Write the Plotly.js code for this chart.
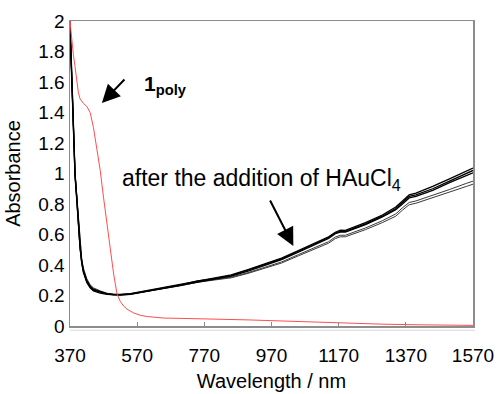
<!DOCTYPE html>
<html>
<head>
<meta charset="utf-8">
<script src="https://cdn.plot.ly/plotly-3.0.1.min.js"></script>
<style>html,body{margin:0;padding:0;background:#fff;}#chart{width:497px;height:394px;}</style>
</head>
<body>
<div id="chart"></div>
<script>
// Wavelength grid for the red (1poly) spectrum
const wlRed = [370,375,380,385,390,395,400,410,420,430,440,450,460,470,480,490,500,510,520,530,540,560,580,600,650,700,800,900,1000,1100,1200,1300,1400,1500,1570];
const absRed = [2.00,1.88,1.78,1.70,1.60,1.53,1.49,1.46,1.44,1.40,1.30,1.16,1.02,0.84,0.66,0.49,0.34,0.21,0.16,0.13,0.11,0.085,0.07,0.062,0.052,0.05,0.047,0.04,0.033,0.025,0.018,0.012,0.008,0.005,0.004];

// Wavelength grid for the spectra after the addition of HAuCl4
const wlAu = [370,373,376,380,385,390,395,400,405,410,420,430,440,460,480,500,520,550,600,650,700,750,800,850,900,950,1000,1050,1100,1140,1160,1175,1190,1250,1300,1340,1360,1380,1400,1450,1500,1550,1570];
const absAu1 = [2.00,1.80,1.55,1.25,1.00,0.85,0.68,0.52,0.42,0.36,0.29,0.255,0.235,0.22,0.21,0.205,0.205,0.21,0.23,0.25,0.27,0.295,0.31,0.33,0.365,0.40,0.44,0.49,0.54,0.58,0.61,0.62,0.62,0.67,0.72,0.77,0.81,0.85,0.86,0.90,0.95,1.00,1.02];
const absAu2 = [1.98,1.78,1.52,1.23,0.99,0.84,0.67,0.52,0.42,0.36,0.30,0.26,0.24,0.225,0.213,0.207,0.207,0.212,0.232,0.252,0.272,0.297,0.313,0.335,0.37,0.405,0.445,0.495,0.545,0.585,0.615,0.628,0.627,0.678,0.728,0.78,0.82,0.86,0.872,0.915,0.965,1.015,1.035];
const absAu3 = [1.95,1.76,1.50,1.22,0.98,0.83,0.66,0.51,0.41,0.35,0.285,0.25,0.23,0.215,0.207,0.203,0.203,0.208,0.228,0.248,0.268,0.292,0.307,0.327,0.36,0.395,0.435,0.485,0.535,0.575,0.605,0.615,0.615,0.665,0.715,0.763,0.80,0.84,0.85,0.89,0.94,0.99,1.005];
const absAu4 = [1.97,1.79,1.54,1.26,1.01,0.86,0.70,0.54,0.44,0.38,0.31,0.27,0.25,0.23,0.215,0.208,0.206,0.21,0.228,0.247,0.266,0.29,0.303,0.32,0.35,0.383,0.42,0.468,0.515,0.553,0.583,0.595,0.595,0.643,0.69,0.735,0.775,0.81,0.82,0.855,0.895,0.935,0.95];
const absAu5 = [1.96,1.78,1.53,1.25,1.00,0.85,0.69,0.53,0.43,0.37,0.30,0.265,0.245,0.226,0.212,0.206,0.205,0.209,0.227,0.245,0.264,0.287,0.30,0.316,0.345,0.377,0.413,0.46,0.506,0.543,0.573,0.585,0.585,0.632,0.678,0.72,0.76,0.795,0.805,0.84,0.878,0.915,0.93];

const xTicks = [370,570,770,970,1170,1370,1570];
const yTicks = [0,0.2,0.4,0.6,0.8,1,1.2,1.4,1.6,1.8,2];

const FONT = 'Arial, "Liberation Sans", sans-serif';

function line(x, y, color, width) {
  return {x: x, y: y, type: 'scatter', mode: 'lines', line: {color: color, width: width}, hoverinfo: 'skip', showlegend: false};
}

const traces = [
  line(wlAu, absAu5, '#3a3a3a', 1.0),
  line(wlAu, absAu4, '#3a3a3a', 1.0),
  line(wlAu, absAu3, '#000000', 1.3),
  line(wlAu, absAu2, '#000000', 1.3),
  line(wlAu, absAu1, '#000000', 1.3),
  line(wlRed, absRed, '#ff4d4d', 1.0)
];

const layout = {
  width: 497, height: 394,
  margin: {l: 70, r: 24, t: 21, b: 68},
  paper_bgcolor: '#ffffff', plot_bgcolor: '#ffffff',
  font: {family: FONT, color: '#000000', size: 19},
  showlegend: false,
  xaxis: {
    range: [370, 1570], tickvals: xTicks, ticktext: xTicks.map(String),
    showgrid: false, zeroline: false,
    showline: true, mirror: true, linecolor: '#8c8c8c', linewidth: 1.5,
    ticks: 'inside', ticklen: 4, tickcolor: '#8c8c8c', tickwidth: 1,
    ticklabelstandoff: 12,
    tickfont: {family: FONT, size: 19, color: '#000'},
    title: {text: 'Wavelength / nm', font: {family: FONT, size: 20, color: '#000'}, standoff: 8}
  },
  yaxis: {
    range: [0, 2], tickvals: yTicks, ticktext: yTicks.map(String),
    showgrid: false, zeroline: false,
    showline: true, mirror: true, linecolor: '#8c8c8c', linewidth: 1.5,
    ticks: '', ticklen: 0,
    tickfont: {family: FONT, size: 19, color: '#000'},
    title: {text: 'Absorbance', font: {family: FONT, size: 20, color: '#000'}, standoff: 12}
  },
  shapes: [
    {type: 'line', xref: 'paper', yref: 'paper', x0: 0, x1: 1.005, y0: -0.014, y1: -0.014, line: {color: '#d8d8d8', width: 1}}
  ],
  annotations: [
    {x: 465, y: 1.462, xref: 'x', yref: 'y', ax: 24, ay: -25, text: '', showarrow: true,
     arrowhead: 2, arrowsize: 1.8, arrowwidth: 2, arrowcolor: '#000'},
    {x: 584, y: 1.58, xref: 'x', yref: 'y', xanchor: 'left', yanchor: 'middle', showarrow: false,
     text: '<b>1<sub>poly</sub></b>', font: {family: FONT, size: 21, color: '#000'}},
    {x: 1035, y: 0.525, xref: 'x', yref: 'y', ax: -24, ay: -47, text: '', showarrow: true,
     arrowhead: 2, arrowsize: 1.8, arrowwidth: 2, arrowcolor: '#000'},
    {x: 520, y: 0.96, xref: 'x', yref: 'y', xanchor: 'left', yanchor: 'middle', showarrow: false,
     text: 'after the addition of HAuCl<sub>4</sub>', font: {family: FONT, size: 23, color: '#000'}}
  ]
};

Plotly.newPlot('chart', traces, layout, {staticPlot: true, displayModeBar: false});
</script>
</body>
</html>
